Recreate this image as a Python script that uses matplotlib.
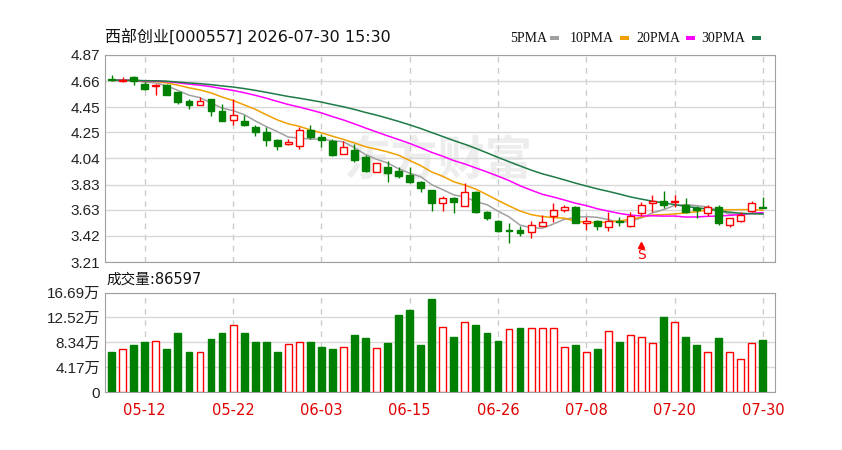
import matplotlib
matplotlib.use("Agg")
import matplotlib.pyplot as plt
from matplotlib.patches import Rectangle
import numpy as np
import pandas as pd

plt.rcParams['font.family'] = ['Liberation Sans', 'Noto Sans CJK SC', 'DejaVu Sans']

# ---------------- data ----------------
dates = ["05-07", "05-08", "05-11", "05-12", "05-13", "05-14", "05-15", "05-18", "05-19", "05-20",
         "05-21", "05-22", "05-25", "05-26", "05-27", "05-28", "05-29", "06-01", "06-02", "06-03",
         "06-04", "06-05", "06-08", "06-09", "06-10", "06-11", "06-12", "06-15", "06-16", "06-17",
         "06-18", "06-22", "06-23", "06-24", "06-25", "06-26", "06-29", "06-30", "07-01", "07-02",
         "07-03", "07-06", "07-07", "07-08", "07-09", "07-10", "07-13", "07-14", "07-15", "07-16",
         "07-17", "07-20", "07-21", "07-22", "07-23", "07-24", "07-27", "07-28", "07-29", "07-30"]

opens = [4.68, 4.66, 4.69, 4.64, 4.62, 4.63, 4.57, 4.50, 4.47, 4.52,
         4.42, 4.35, 4.34, 4.29, 4.25, 4.19, 4.16, 4.14, 4.27, 4.21,
         4.18, 4.08, 4.11, 4.05, 3.93, 3.97, 3.94, 3.91, 3.85, 3.79,
         3.68, 3.72, 3.66, 3.77, 3.61, 3.54, 3.47, 3.47, 3.45, 3.50,
         3.58, 3.63, 3.65, 3.52, 3.54, 3.49, 3.54, 3.50, 3.60, 3.68,
         3.70, 3.69, 3.67, 3.64, 3.60, 3.65, 3.51, 3.54, 3.62, 3.65]
highs = [4.71, 4.69, 4.70, 4.65, 4.64, 4.64, 4.57, 4.52, 4.53, 4.52,
         4.48, 4.52, 4.39, 4.31, 4.29, 4.20, 4.20, 4.29, 4.31, 4.24,
         4.20, 4.18, 4.16, 4.07, 4.00, 4.02, 3.97, 3.97, 3.86, 3.79,
         3.74, 3.73, 3.84, 3.78, 3.62, 3.55, 3.52, 3.50, 3.54, 3.59,
         3.68, 3.67, 3.66, 3.57, 3.55, 3.61, 3.57, 3.61, 3.69, 3.75,
         3.78, 3.75, 3.72, 3.66, 3.67, 3.67, 3.56, 3.61, 3.70, 3.73]
lows = [4.66, 4.65, 4.63, 4.59, 4.55, 4.55, 4.48, 4.44, 4.47, 4.38,
        4.34, 4.31, 4.30, 4.22, 4.14, 4.11, 4.15, 4.12, 4.20, 4.13,
        4.06, 4.08, 4.01, 3.93, 3.93, 3.85, 3.88, 3.84, 3.77, 3.62,
        3.62, 3.60, 3.66, 3.60, 3.55, 3.45, 3.36, 3.42, 3.40, 3.50,
        3.53, 3.61, 3.52, 3.47, 3.47, 3.46, 3.50, 3.49, 3.58, 3.61,
        3.64, 3.65, 3.60, 3.56, 3.58, 3.51, 3.49, 3.53, 3.61, 3.64]
closes = [4.67, 4.67, 4.66, 4.60, 4.63, 4.55, 4.49, 4.47, 4.50, 4.42,
          4.34, 4.39, 4.31, 4.25, 4.19, 4.14, 4.17, 4.27, 4.21, 4.19,
          4.07, 4.13, 4.03, 3.94, 4.00, 3.92, 3.90, 3.85, 3.80, 3.68,
          3.72, 3.69, 3.77, 3.61, 3.56, 3.46, 3.46, 3.44, 3.51, 3.53,
          3.63, 3.65, 3.52, 3.54, 3.50, 3.54, 3.53, 3.58, 3.67, 3.70,
          3.67, 3.70, 3.61, 3.63, 3.65, 3.52, 3.56, 3.59, 3.68, 3.64]

# closes before the visible window (needed for the moving averages)
prior_closes = [4.66, 4.68, 4.67, 4.65, 4.66, 4.68, 4.69, 4.67, 4.66, 4.65,
                4.66, 4.67, 4.68, 4.66, 4.65, 4.67, 4.68, 4.67, 4.66, 4.66,
                4.67, 4.68, 4.66, 4.65, 4.66, 4.67, 4.68, 4.67, 4.66]

volumes = [66500, 71600, 78900, 83400, 86100, 71600, 98600, 66500, 66500, 88500,
           98600, 112700, 98600, 83400, 83400, 66500, 80600, 83400, 83400, 76000,
           71600, 76000, 95800, 91200, 74300, 81700, 129500, 136800, 78900, 156500,
           109800, 92900, 117200, 112700, 98600, 86100, 105400, 108100, 108100, 108100,
           108100, 76000, 78900, 66500, 71600, 103000, 83400, 95800, 92900, 81700,
           125000, 117700, 92900, 78900, 66500, 91200, 66500, 54700, 81700, 86597]
vol_up = [0, 1, 0, 0, 1, 0, 0, 0, 1, 0,
          0, 1, 0, 0, 0, 0, 1, 1, 0, 0,
          0, 1, 0, 0, 1, 0, 0, 0, 0, 0,
          1, 0, 1, 0, 0, 0, 1, 0, 1, 1,
          1, 1, 0, 1, 0, 1, 0, 1, 1, 1,
          0, 1, 0, 0, 1, 0, 1, 1, 1, 0]

price_ticks = [3.21, 3.42, 3.63, 3.83, 4.04, 4.25, 4.45, 4.66, 4.87]
vol_ticks = [0, 41700, 83400, 125200, 166900]
vol_tick_labels = ["0", "4.17万", "8.34万", "12.52万", "16.69万"]
xtick_idx = [3, 11, 19, 27, 35, 43, 51, 59]
ma_periods = [5, 10, 20, 30]
ma_names = ["5PMA", "10PMA", "20PMA", "30PMA"]
signal_idx = 48

# ---------------- style ----------------
UP = "#ff0000"
DOWN = "#008000"
MA_COLORS = ["#a0a0a0", "#f0a000", "#ff00ff", "#1e7a46"]
GRID = "#d8d8d8"
SPINE = "#a0a0a0"

W, H = 842, 450
fig = plt.figure(figsize=(W / 100, H / 100), dpi=100)
fig.patch.set_facecolor("white")

def fx(px):
    return px / W

def fy(py):
    return 1 - py / H

ax = fig.add_axes([fx(104.5), fy(262), fx(775 - 104.5), (262 - 55) / H])
axv = fig.add_axes([fx(104.5), fy(392), fx(775 - 104.5), (392 - 292.5) / H])

n = len(closes)
x = np.arange(n)
xlim = (-0.65, 60.1)

# watermark
ax.text(29.5, 4.02, "东方财富", fontsize=34, color="#ededed", ha="center", va="center",
        fontweight="bold", family=["Noto Sans CJK SC"], zorder=0)

# moving averages
full = pd.Series(prior_closes + closes)
for p, c in zip(ma_periods, MA_COLORS):
    ma = full.rolling(p).mean().values[len(prior_closes):]
    ax.plot(x, ma, color=c, lw=1.1, zorder=2)

# candles
o = np.array(opens); h = np.array(highs); l = np.array(lows); c = np.array(closes)
up = c >= o
bw = 0.62
for i in range(n):
    col = UP if up[i] else DOWN
    ax.vlines(x[i], l[i], h[i], color=col, lw=1.0, zorder=3)
    bot = min(o[i], c[i])
    ht = max(abs(c[i] - o[i]), 0.004)
    ax.bar(x[i], ht, bottom=bot, width=bw, facecolor="white" if up[i] else DOWN,
           edgecolor=col, linewidth=1.0, zorder=4)

# signal marker
ax.plot([signal_idx], [3.345], marker="^", ms=4.5, color=UP, zorder=5, clip_on=False)
ax.text(signal_idx, 3.265, "S", color=UP, fontsize=10, ha="center", va="center", zorder=5,
        family=["DejaVu Sans"])

ax.set_xlim(*xlim)
ax.set_ylim(3.21, 4.87)
ax.set_yticks(price_ticks)
ax.set_yticklabels([f"{t:.2f}" for t in price_ticks])
ax.set_xticks(xtick_idx)
ax.set_xticklabels([])
ax.tick_params(axis="both", length=0, labelsize=11, pad=3)
ax.tick_params(axis="y", colors="#222222")
ax.grid(axis="y", color=GRID, lw=1, ls="-", zorder=0)
ax.grid(axis="x", color="#cccccc", lw=1, ls=(0, (4, 4)), zorder=0)
for s in ax.spines.values():
    s.set_color(SPINE)

# volume bars
vup = np.array(vol_up).astype(bool)
axv.bar(x[vup], np.array(volumes)[vup], width=bw, facecolor="white", edgecolor=UP, lw=1.0, zorder=3)
axv.bar(x[~vup], np.array(volumes)[~vup], width=bw, facecolor=DOWN, edgecolor=DOWN, lw=1.0, zorder=3)
axv.set_xlim(*xlim)
axv.set_ylim(0, 166900)
axv.set_yticks(vol_ticks)
axv.set_yticklabels(vol_tick_labels)
axv.set_xticks(xtick_idx)
axv.set_xticklabels([dates[i] for i in xtick_idx], family=["DejaVu Sans"])
axv.tick_params(axis="both", length=0, labelsize=11)
axv.tick_params(axis="y", pad=3, colors="#222222")
axv.tick_params(axis="x", pad=8, colors="#e00000", labelsize=10.5)
axv.grid(axis="y", color=GRID, lw=1, ls="-", zorder=0)
axv.grid(axis="x", color="#cccccc", lw=1, ls=(0, (4, 4)), zorder=0)
for s in axv.spines.values():
    s.set_color(SPINE)

# texts
fig.text(fx(105), fy(38), "西部创业[000557] 2026-07-30 15:30", fontsize=11.5, va="center", ha="left",
         color="#111111", family=["DejaVu Sans", "Noto Sans CJK SC"])
fig.text(fx(106), fy(279), "成交量:86597", fontsize=10.5, va="center", ha="left", color="#111111",
         family=["DejaVu Sans", "Noto Sans CJK SC"])

leg_text_x = [510, 570, 636, 701]
leg_rect_x = [550, 620, 686, 752]
for name, col, tx, rx in zip(ma_names, MA_COLORS, leg_text_x, leg_rect_x):
    fig.text(fx(tx), fy(38), name, fontsize=10, va="center", ha="left", color="#111111",
             family=["Liberation Serif"])
    fig.patches.append(Rectangle((fx(rx), fy(39.5)), 9 / W, 4 / H, transform=fig.transFigure,
                                 facecolor=col, edgecolor="none"))

fig.savefig("out.png", dpi=100, facecolor="white")
